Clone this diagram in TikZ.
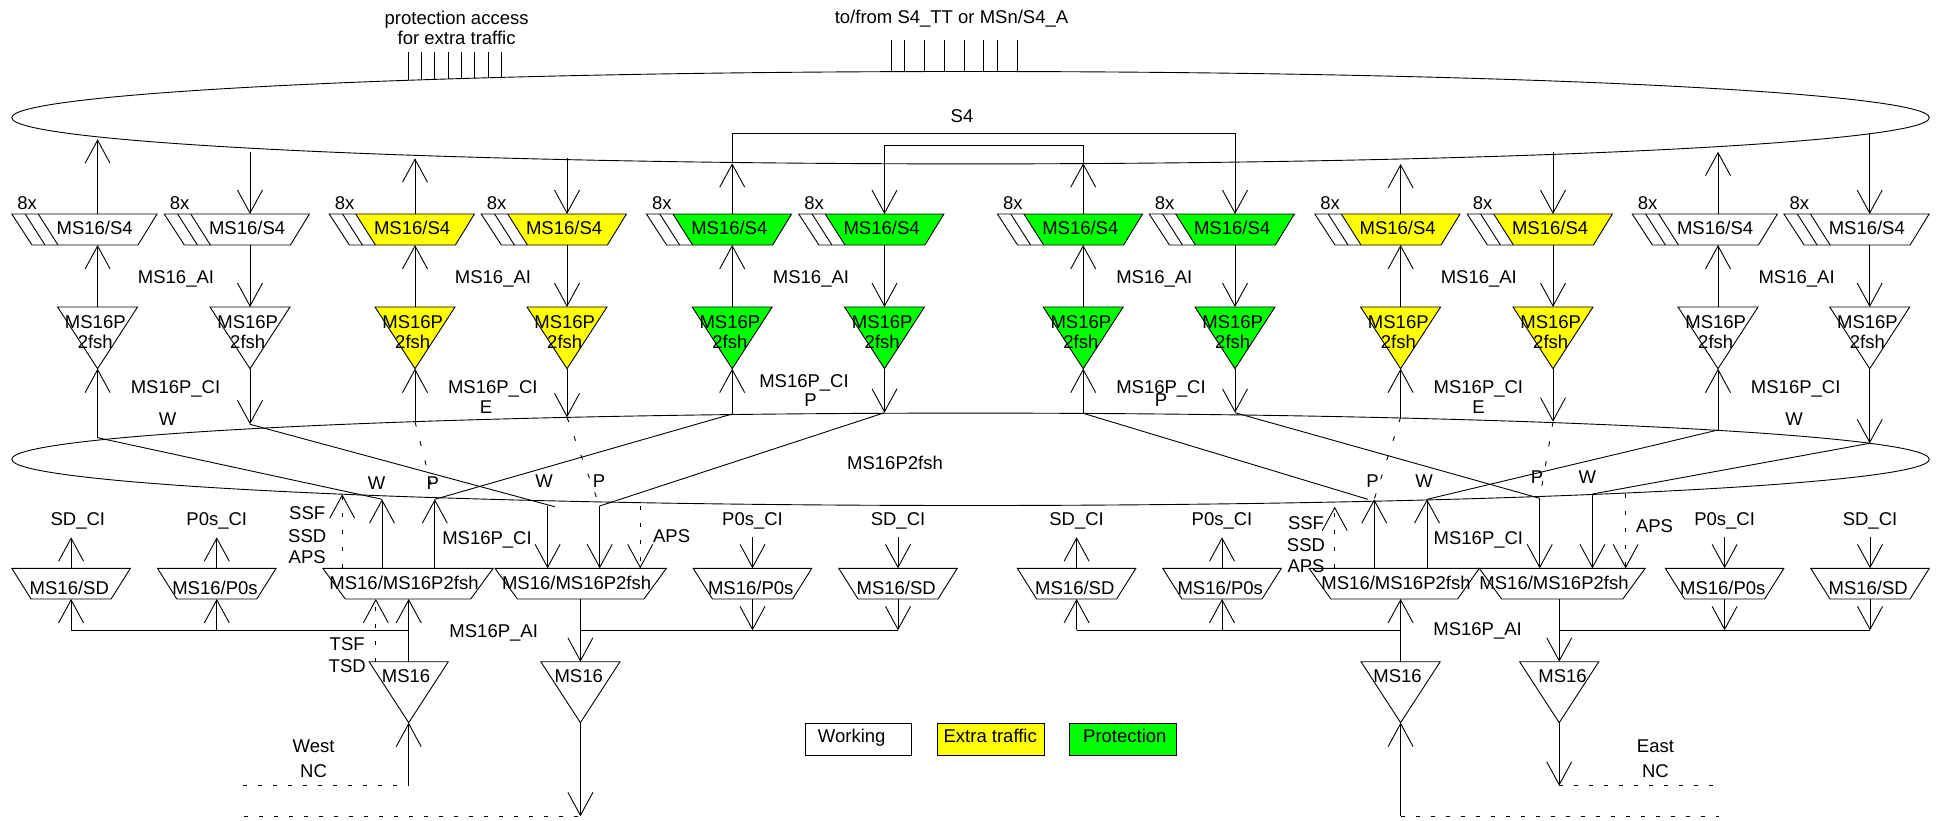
\documentclass[tikz,border=0pt]{standalone}
\usepackage{fontspec}
\setmainfont{Liberation Sans}
\usepackage{tikz}
\usetikzlibrary{arrows.meta, shapes.geometric}
\definecolor{extrayellow}{RGB}{255,255,0}
\definecolor{protgreen}{RGB}{0,255,0}

\begin{document}
\begin{tikzpicture}[
  x=1pt, y=-1pt,
  line width=0.9pt,
  txt/.style={
    inner sep=0pt,
    align=center,
    text height=13.3pt,
    text depth=0pt,
    font=\fontsize{18.5}{20.6}\selectfont
  },
  ring/.style={
    ellipse,
    draw,
    inner sep=0pt,
    outer sep=0pt,
    minimum width=1917.5pt,
    minimum height=92.4pt
  },
  legendbox/.style={
    rectangle,
    draw,
    inner sep=0pt,
    minimum width=106.5pt,
    minimum height=31.7pt
  },
  arrow/.style={
    -{Straight Barb[length=23pt,width=25pt]}
  },
  dasharrow/.style={
    arrow,
    dash pattern=on 4pt off 13pt
  },
  dashline/.style={
    dash pattern=on 4pt off 11pt
  },
  sparse/.style={
    dash pattern=on 5pt off 15pt
  }
]
\useasboundingbox (0,0) rectangle (1937,821);

% =========================================================
% The two layers
% =========================================================
\node[ring] (s4ring) at (970.5,117.7) {};
\node[ring] (fshring) at (970.5,459.3) {};
\node[txt] (s4txt) at (962,115.7) {S4};
\node[txt] (fshtxt) at (895,463.3) {MS16P2fsh};

% =========================================================
% Access points on top
% =========================================================
\node[txt] (extratxt) at (456.6,38) {protection access\\for extra traffic};
\node[txt] (accesstxt) at (951.5,16.7) {to/from S4\_TT or MSn/S4\_A};

\foreach \i/\x/\y in {1/408.3/80.2, 2/421.7/79.7, 3/434.8/79.3, 4/448.2/78.9, 5/461.3/78.5, 6/474.7/78.1, 7/488.2/77.7, 8/501.3/77.3} {
  \coordinate (ea\i) at (\x,52.3);
  \coordinate (eb\i) at (\x,\y);
  \draw (ea\i) -- (eb\i);
}
\foreach \i/\x in {1/891.3, 2/904.7, 3/924.5, 4/944.3, 5/964.1, 6/983.9, 7/997.3, 8/1017.1} {
  \coordinate (ta\i) at (\x,40);
  \coordinate (tb\i) at (\x,71.5);
  \draw (ta\i) -- (tb\i);
}

% =========================================================
% Twelve columns: MS16/S4 over MS16P 2fsh
% =========================================================
\foreach \i/\x/\col/\yu/\yl in {1/97.6/white/139.3/437.7, 2/250/white/151.7/424.3, 3/415/extrayellow/158.3/421.7, 4/567/extrayellow/158.3/417.3, 5/732.2/protgreen/163.3/414, 6/884.5/protgreen/145.3/412.7, 7/1083.2/protgreen/163.3/413.3, 8/1235/protgreen/133.3/412.7, 9/1400.6/extrayellow/164/417.3, 10/1553/extrayellow/151.7/421.7, 11/1718/white/151.7/430, 12/1869.7/white/133.3/443.3} {
  \begin{scope}[shift={(\x,0)}]
    \coordinate (up\i) at (0,\yu);
    \coordinate (st\i) at (0,214);
    \coordinate (sb\i) at (0,245);
    \coordinate (pt\i) at (0,307);
    \coordinate (pa\i) at (0,368.7);
    \coordinate (lo\i) at (0,\yl);
    \fill[\col] (-59.3,214) -- (59.4,214) -- (40.4,245) -- (-39.6,245) -- cycle;
    \draw (-85.8,214) -- (59.4,214) -- (40.4,245) -- (-65.6,245) -- cycle;
    \draw (-72.4,214) -- (-52.6,245);
    \draw (-59.3,214) -- (-39.6,245);
    \fill[\col] (-40,307) -- (40,307) -- (0,368.7) -- cycle;
    \draw (-40,307) -- (40,307) -- (0,368.7) -- cycle;
    \node[txt] (sn\i) at (-2.9,227.7) {MS16/S4};
    \node[txt] (pn\i) at (-2.3,342.3) {MS16P\\2fsh};
    \node[txt] (nx\i) at (-70.4,202.5) {8x};
  \end{scope}
}

% Columns going up
\foreach \i in {1,3,5,7,9,11} {
  \draw[arrow] (st\i) -- (up\i);
  \draw[arrow] (pt\i) -- (sb\i);
  \draw[arrow] (lo\i) -- (pa\i);
}
% Columns going down
\foreach \i in {2,4,6,8,10,12} {
  \draw[arrow] (up\i) -- (st\i);
  \draw[arrow] (sb\i) -- (pt\i);
  \draw[arrow] (pa\i) -- (lo\i);
}

% Pass-through between the protection columns
\draw (up5) |- (up8);
\draw (up7) |- (up6);

% =========================================================
% Labels between the layers
% =========================================================
\node[txt] (ai1) at (176,276.7) {MS16\_AI};
\node[txt] (ai2) at (493,276.7) {MS16\_AI};
\node[txt] (ai3) at (811,276.7) {MS16\_AI};
\node[txt] (ai4) at (1154.3,276.7) {MS16\_AI};
\node[txt] (ai5) at (1478.8,276.7) {MS16\_AI};
\node[txt] (ai6) at (1796.6,276.7) {MS16\_AI};

\node[txt] (ci1) at (175.5,386.7) {MS16P\_CI};
\node[txt] (ci2) at (492.8,386.7) {MS16P\_CI};
\node[txt] (ci3) at (804,380.7) {MS16P\_CI};
\node[txt] (ci4) at (1161,386.7) {MS16P\_CI};
\node[txt] (ci5) at (1478.4,386.7) {MS16P\_CI};
\node[txt] (ci6) at (1795.7,386.7) {MS16P\_CI};

\node[txt] (lw1) at (167.5,419.3) {W};
\node[txt] (le1) at (486,406.7) {E};
\node[txt] (lp1) at (810.5,400) {P};
\node[txt] (lp2) at (1161,400) {P};
\node[txt] (le2) at (1478.4,406.7) {E};
\node[txt] (lw2) at (1794,419.3) {W};

\node[txt] (lw3) at (376.7,482.7) {W};
\node[txt] (lp3) at (432.7,482.7) {P};
\node[txt] (lw4) at (544.2,481) {W};
\node[txt] (lp4) at (599,481) {P};
\node[txt] (lp5) at (1372.5,481) {P};
\node[txt] (lw5) at (1424,481) {W};
\node[txt] (lp6) at (1537,476.7) {P};
\node[txt] (lw6) at (1587.3,476.7) {W};

% =========================================================
% MS16/MS16P2fsh blocks and the crossing links
% =========================================================
\foreach \n/\x/\wt/\wb/\tx in {A/408/85.2/62.7/404, B/580.7/85.7/63.3/576.6, C/1394.2/85.1/63.4/1396, D/1562.2/83/60.6/1554} {
  \coordinate (fsh\n) at (\x,568.3);
  \coordinate (bot\n) at (\x,599);
  \draw (\x-\wt,568.3) -- (\x+\wt,568.3) -- (\x+\wb,599) -- (\x-\wb,599) -- cycle;
  \node[txt] (fn\n) at (\tx,583) {MS16/MS16P2fsh};
}

\coordinate (aW) at (382,499.3);
\coordinate (aP) at (434.8,499.3);
\coordinate (bW) at (547.6,506);
\coordinate (bX) at (554.7,506.7);
\coordinate (bP) at (599.7,506);
\coordinate (cX) at (1367.8,499.3);
\coordinate (cP) at (1374.2,499.3);
\coordinate (cW) at (1427,499.3);
\coordinate (dP) at (1539.7,498.3);
\coordinate (dW) at (1592.4,494);

% Working and protection lines across the layer
\draw (lo1) -- (aW);
\draw (lo2) -- (bX);
\draw (lo5) -- (aP);
\draw (lo6) -- (bP);
\draw (lo7) -- (cX);
\draw (lo8) -- (dP);
\draw (lo11) -- (cW);
\draw (lo12) -- (dW);

% Extra traffic lines
\draw[sparse] (lo3) -- (aP);
\draw[sparse] (lo4) -- (bP);
\draw[sparse] (lo9) -- (cP);
\draw[sparse] (lo10) -- (dP);

\draw[arrow] (aW |- fshA) -- (aW);
\draw[arrow] (aP |- fshA) -- (aP);
\draw[arrow] (bW) -- (bW |- fshA);
\draw[arrow] (bP) -- (bP |- fshA);
\draw[arrow] (cP |- fshA) -- (cP);
\draw[arrow] (cW |- fshA) -- (cW);
\draw[arrow] (dP) -- (dP |- fshA);
\draw[arrow] (dW) -- (dW |- fshA);

% SSF / SSD / APS signals
\coordinate (sigA) at (342.2,494.3);
\coordinate (sigB) at (640.2,506);
\coordinate (sigC) at (1334.7,506.7);
\coordinate (sigD) at (1625.6,494);
\draw[dasharrow] (sigA |- fshA) -- (sigA);
\draw[dasharrow] (sigB) -- (sigB |- fshA);
\draw[dasharrow] (sigC |- fshA) -- (sigC);
\draw[dasharrow] (sigD) -- (sigD |- fshA);

\node[txt] (ssf1) at (307.2,513.3) {SSF};
\node[txt] (ssd1) at (307.2,535.7) {SSD};
\node[txt] (aps1) at (307.2,556.7) {APS};
\node[txt] (aps2) at (671.6,535.7) {APS};
\node[txt] (ssf2) at (1306,523.3) {SSF};
\node[txt] (ssd2) at (1306,545) {SSD};
\node[txt] (aps3) at (1306,565.7) {APS};
\node[txt] (aps4) at (1654.5,525.7) {APS};
\node[txt] (fci1) at (487,537.7) {MS16P\_CI};
\node[txt] (fci2) at (1478.4,537.7) {MS16P\_CI};
\node[txt] (fai1) at (493.7,630.7) {MS16P\_AI};
\node[txt] (fai2) at (1477.6,629) {MS16P\_AI};
\node[txt] (tsf) at (347.2,644.3) {TSF};
\node[txt] (tsd) at (347.2,665.7) {TSD};

% =========================================================
% MS16/SD and MS16/P0s blocks
% =========================================================
\foreach \n/\x/\kind/\lx in {sdA/71.1/SD/77.9, pA/216.8/P0s/216.8, pB/752.5/P0s/752.5, sdB/898/SD/898, sdC/1076.6/SD/1076.6, pC/1222/P0s/1222, pD/1724.6/P0s/1724.6, sdD/1870/SD/1870} {
  \coordinate (top\n) at (\x,568.3);
  \coordinate (low\n) at (\x,599);
  \coordinate (bus\n) at (\x,630.3);
  \coordinate (sg\n) at (\x,537.3);
  \draw (\x-59.3,568.3) -- (\x+59.3,568.3) -- (\x+40,599) -- (\x-40,599) -- cycle;
  \node[txt] (bn\n) at (\x-1.8,587.7) {MS16/\kind};
  \node[txt] (bl\n) at (\lx,518.7) {\kind\_CI};
}

\foreach \n in {sdA,pA,sdC,pC} {
  \draw[arrow] (top\n) -- (sg\n);
  \draw[arrow] (bus\n) -- (low\n);
}
\foreach \n in {pB,sdB,pD,sdD} {
  \draw[arrow] (sg\n) -- (top\n);
  \draw[arrow] (low\n) -- (bus\n);
}

% =========================================================
% MS16 triangles and line ports
% =========================================================
\foreach \n/\x/\tx in {A/408.7/406, B/580.4/578.7, C/1400.6/1397.6, D/1559.2/1562.6} {
  \coordinate (ms\n) at (\x,661.7);
  \coordinate (apex\n) at (\x,722.7);
  \coordinate (out\n) at (\x,599);
  \draw (\x-39.6,661.7) -- (\x+39.6,661.7) -- (\x,722.7) -- cycle;
  \node[txt] (mn\n) at (\tx,676) {MS16};
}

\draw[arrow] (msA) -- (outA);
\draw[arrow] (outB) -- (msB);
\draw[arrow] (msC) -- (outC);
\draw[arrow] (outD) -- (msD);

\coordinate (tsfp) at (375.8,661.7);
\draw[dasharrow] (tsfp) -- (tsfp |- outA);

\draw (bussdA) -- (msA |- bussdA);
\draw (msB |- bussdB) -- (bussdB);
\draw (bussdC) -- (msC |- bussdC);
\draw (msD |- bussdD) -- (bussdD);

\coordinate (westA) at (408.7,785.7);
\coordinate (westB) at (242.8,785.7);
\coordinate (westC) at (580.4,816.3);
\coordinate (westD) at (244,816.3);
\coordinate (eastA) at (1400.6,816.3);
\coordinate (eastB) at (1718.7,816.3);
\coordinate (eastC) at (1559.2,785.7);
\coordinate (eastD) at (1720.9,785.7);

\draw[arrow] (westA) -- (apexA);
\draw[arrow] (apexB) -- (westC);
\draw[arrow] (eastA) -- (apexC);
\draw[arrow] (apexD) -- (eastC);

\draw[dashline] (westB) -- (westA);
\draw[dashline] (westD) -- (westC);
\draw[dashline] (eastA) -- (eastB);
\draw[dashline] (eastC) -- (eastD);

\node[txt] (westtxt) at (313.6,745.5) {West};
\node[txt] (westnc) at (313.6,770.5) {NC};
\node[txt] (easttxt) at (1655.4,745.5) {East};
\node[txt] (eastnc) at (1655.4,770.5) {NC};

% =========================================================
% Legend
% =========================================================
\node[legendbox] (lgw) at (858.6,739.2) {};
\node[legendbox, fill=extrayellow] (lgx) at (990.8,739.2) {};
\node[legendbox, fill=protgreen] (lgp) at (1123,739.2) {};
\node[txt] (lgwt) at (851.7,735.7) {Working};
\node[txt] (lgxt) at (990.2,735.7) {Extra traffic};
\node[txt] (lgpt) at (1124.8,735.7) {Protection};

\end{tikzpicture}
\end{document}
